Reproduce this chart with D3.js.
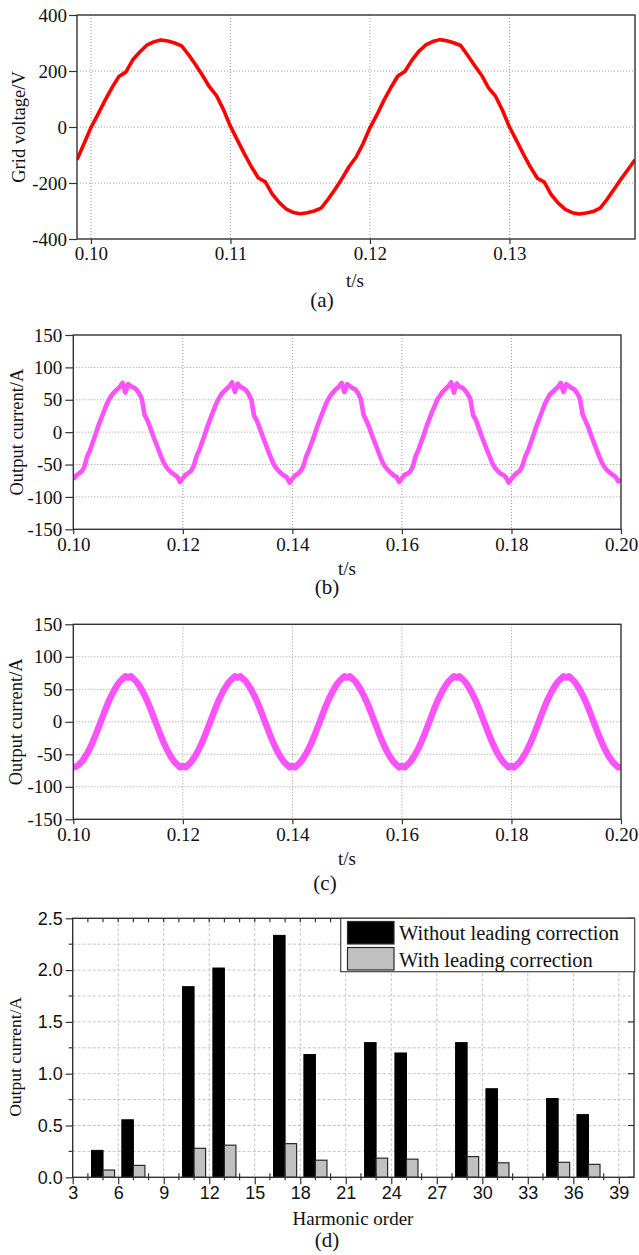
<!DOCTYPE html>
<html>
<head>
<meta charset="utf-8">
<script src="https://cdn.jsdelivr.net/npm/d3@7"></script>
<style>
  body { margin: 0; background: #fff; }
  svg text { font-family: "Liberation Serif", "Times New Roman", serif; fill: #111; }
</style>
</head>
<body>
<svg id="chart" width="639" height="1255"></svg>
<script>
// ---- data ----
// (a) grid voltage, sampled every 0.5 ms from t = 0.099 s
const voltageStart = 0.099;
const voltageStep = 0.0005;
const gridVoltage = [
  -117, -60, -2, 45, 94, 140, 180, 196, 240, 268, 292, 304, 311, 307, 300, 290, 258, 222, 184, 143,
  112, 62, 2, -47, -96, -142, -182, -196, -240, -270, -293, -305, -310, -306, -300, -290, -258, -222, -184, -142,
  -108, -60, -3, 44, 95, 141, 182, 198, 238, 270, 293, 305, 312, 308, 301, 291, 256, 220, 185, 140,
  110, 60, 0, -48, -97, -143, -183, -197, -242, -272, -294, -306, -311, -307, -302, -290, -258, -222, -186, -152,
  -117
];
const voltageTicksX = [0.10, 0.11, 0.12, 0.13];
const voltageTicksY = [-400, -200, 0, 200, 400];

// (b) output current without leading correction, every 0.5 ms from t = 0.10 s
const currentStart = 0.10;
const currentStep = 0.0005;
const currentWithout = [
  -73, -67, -64, -61, -54, -38, -29, -17, -5, 8, 19, 30, 41, 50, 57, 62, 66, 70, 76, 61,
  74, 71, 69, 66, 60, 52, 27, 19, 8, -4, -15, -26, -37, -47, -54, -59, -63, -66, -69, -77,
  -71, -66, -63, -60, -52, -37, -28, -16, -4, 9, 20, 31, 42, 51, 58, 63, 67, 71, 77, 62,
  75, 70, 68, 65, 59, 50, 26, 18, 7, -5, -16, -27, -38, -48, -55, -60, -64, -67, -70, -78,
  -72, -67, -64, -60, -53, -38, -28, -17, -5, 8, 19, 30, 41, 50, 57, 62, 67, 70, 76, 62,
  74, 71, 68, 66, 60, 51, 27, 18, 8, -4, -15, -26, -37, -47, -54, -59, -63, -67, -69, -77,
  -71, -66, -64, -61, -53, -37, -28, -16, -4, 9, 20, 31, 41, 51, 57, 63, 67, 71, 77, 61,
  75, 70, 69, 65, 59, 51, 26, 19, 7, -5, -16, -27, -37, -48, -55, -60, -64, -66, -70, -78,
  -72, -67, -63, -60, -52, -38, -29, -17, -5, 8, 19, 30, 42, 50, 58, 62, 66, 70, 76, 62,
  74, 71, 68, 66, 60, 52, 27, 18, 8, -4, -15, -26, -37, -47, -54, -59, -63, -66, -69, -76,
  -74
];

// (c) output current with leading correction, every 0.5 ms from t = 0.10 s
const currentWith = [
  -70, -69, -66, -62, -56, -49, -41, -32, -22, -11, 0, 11, 22, 32, 41, 49, 56, 62, 66, 70,
  68, 70, 66, 62, 56, 49, 41, 32, 22, 11, 0, -11, -22, -32, -41, -49, -56, -62, -66, -70,
  -68, -70, -66, -62, -56, -49, -41, -32, -22, -11, 0, 11, 22, 32, 41, 49, 56, 62, 66, 70,
  68, 70, 66, 62, 56, 49, 41, 32, 22, 11, 0, -11, -22, -32, -41, -49, -56, -62, -66, -70,
  -68, -70, -66, -62, -56, -49, -41, -32, -22, -11, 0, 11, 22, 32, 41, 49, 56, 62, 66, 70,
  68, 70, 66, 62, 56, 49, 41, 32, 22, 11, 0, -11, -22, -32, -41, -49, -56, -62, -66, -70,
  -68, -70, -66, -62, -56, -49, -41, -32, -22, -11, 0, 11, 22, 32, 41, 49, 56, 62, 66, 70,
  68, 70, 66, 62, 56, 49, 41, 32, 22, 11, 0, -11, -22, -32, -41, -49, -56, -62, -66, -70,
  -68, -70, -66, -62, -56, -49, -41, -32, -22, -11, 0, 11, 22, 32, 41, 49, 56, 62, 66, 70,
  68, 70, 66, 62, 56, 49, 41, 32, 22, 11, 0, -11, -22, -32, -41, -49, -56, -62, -66, -70,
  -70
];
const currentTicksX = [0.10, 0.12, 0.14, 0.16, 0.18, 0.20];
const currentTicksY = [-150, -100, -50, 0, 50, 100, 150];

// (d) harmonic spectrum
const harmonicOrders = [5, 7, 11, 13, 17, 19, 23, 25, 29, 31, 35, 37];
const withoutLeading = [0.26, 0.555, 1.84, 2.02, 2.335, 1.185, 1.30, 1.20, 1.30, 0.855, 0.76, 0.605];
const withLeading = [0.07, 0.115, 0.28, 0.31, 0.325, 0.165, 0.185, 0.175, 0.20, 0.14, 0.145, 0.125];
const seriesNames = ['Without leading correction', 'With leading correction'];
const harmonicTicksX = [3, 6, 9, 12, 15, 18, 21, 24, 27, 30, 33, 36, 39];
const harmonicTicksY = [0, 0.5, 1.0, 1.5, 2.0, 2.5];

const svg = d3.select('#chart');
const serif = '"Liberation Serif", "Times New Roman", serif';
const sans = '"Liberation Sans", Arial, sans-serif';
const axisColor = '#333';

// Draw one time-domain panel
function wavePanel(cfg) {
    const x = d3.scaleLinear().domain(cfg.xDomain).range([cfg.left, cfg.right]);
    const y = d3.scaleLinear().domain(cfg.yDomain).range([cfg.bottom, cfg.top]);
    const g = svg.append('g');

    // dotted grid
    g.selectAll('.vgrid')
        .data(cfg.xTicks.filter(d => x(d) > cfg.left + 1 && x(d) < cfg.right - 1))
        .enter().append('line')
        .attr('x1', d => x(d)).attr('x2', d => x(d))
        .attr('y1', cfg.top).attr('y2', cfg.bottom)
        .attr('stroke', '#999').attr('stroke-width', 1).attr('stroke-dasharray', '1,2');
    g.selectAll('.hgrid')
        .data(cfg.yTicks.filter(d => d !== cfg.yDomain[0] && d !== cfg.yDomain[1]))
        .enter().append('line')
        .attr('x1', cfg.left).attr('x2', cfg.right)
        .attr('y1', d => y(d)).attr('y2', d => y(d))
        .attr('stroke', '#999').attr('stroke-width', 1).attr('stroke-dasharray', '1,2');

    // waveform
    g.append('clipPath').attr('id', cfg.id + '-clip')
        .append('rect')
        .attr('x', cfg.left).attr('y', cfg.top)
        .attr('width', cfg.right - cfg.left).attr('height', cfg.bottom - cfg.top);

    const line = d3.line()
        .x((d, i) => x(cfg.start + i * cfg.step))
        .y(d => y(d));

    g.append('path')
        .datum(cfg.values)
        .attr('clip-path', `url(#${cfg.id}-clip)`)
        .attr('d', line)
        .attr('fill', 'none')
        .attr('stroke', cfg.color)
        .attr('stroke-width', cfg.lineWidth)
        .attr('stroke-linejoin', 'round');

    // axes
    const xAxis = g.append('g')
        .attr('transform', `translate(0,${cfg.bottom})`)
        .call(d3.axisBottom(x).tickValues(cfg.xTicks).tickFormat(d3.format('.2f')).tickSize(5).tickPadding(3));
    const yAxis = g.append('g')
        .attr('transform', `translate(${cfg.left},0)`)
        .call(d3.axisLeft(y).tickValues(cfg.yTicks).tickFormat(d => String(d)).tickSize(8).tickPadding(cfg.yPad));
    [xAxis, yAxis].forEach(a => {
        a.select('.domain').remove();
        a.selectAll('line').attr('stroke', axisColor).attr('stroke-width', 1.2);
        a.selectAll('text').style('font-family', serif).style('font-size', '19px').attr('fill', '#111');
    });

    // frame
    g.append('rect')
        .attr('x', cfg.left).attr('y', cfg.top)
        .attr('width', cfg.right - cfg.left).attr('height', cfg.bottom - cfg.top)
        .attr('fill', 'none').attr('stroke', axisColor).attr('stroke-width', 1.4);

    // labels
    g.append('text')
        .attr('transform', `translate(${cfg.yLabelX},${(cfg.top + cfg.bottom) / 2}) rotate(-90)`)
        .attr('text-anchor', 'middle').attr('dy', '0.35em')
        .style('font-size', '18.5px')
        .text(cfg.yLabel);
    g.append('text')
        .attr('x', cfg.xLabelX).attr('y', cfg.xLabelY)
        .attr('text-anchor', 'middle').attr('dy', '0.35em')
        .style('font-size', '19px')
        .text('t/s');
    g.append('text')
        .attr('x', cfg.tagX).attr('y', cfg.tagY)
        .attr('text-anchor', 'middle').attr('dy', '0.35em')
        .style('font-size', '21px')
        .text(cfg.tag);
}

wavePanel({
    id: 'pa', left: 77, right: 635, top: 15, bottom: 239,
    xDomain: [0.099, 0.139], yDomain: [-400, 400],
    xTicks: voltageTicksX, yTicks: voltageTicksY,
    start: voltageStart, step: voltageStep, values: gridVoltage,
    color: '#ff0000', lineWidth: 3.6, yPad: 2,
    yLabel: 'Grid voltage/V', yLabelX: 19,
    xLabelX: 355, xLabelY: 280, tag: '(a)', tagX: 322, tagY: 300
});

wavePanel({
    id: 'pb', left: 73.3, right: 621, top: 335, bottom: 529.3,
    xDomain: [0.10, 0.20], yDomain: [-150, 150],
    xTicks: currentTicksX, yTicks: currentTicksY,
    start: currentStart, step: currentStep, values: currentWithout,
    color: '#fb52fb', lineWidth: 4.6, yPad: 3,
    yLabel: 'Output current/A', yLabelX: 17,
    xLabelX: 347, xLabelY: 568, tag: '(b)', tagX: 327, tagY: 587
});

wavePanel({
    id: 'pc', left: 73.3, right: 621, top: 624.3, bottom: 819.3,
    xDomain: [0.10, 0.20], yDomain: [-150, 150],
    xTicks: currentTicksX, yTicks: currentTicksY,
    start: currentStart, step: currentStep, values: currentWith,
    color: '#fb52fb', lineWidth: 6.5, yPad: 3,
    yLabel: 'Output current/A', yLabelX: 16,
    xLabelX: 347, xLabelY: 858, tag: '(c)', tagX: 325, tagY: 883
});

// ---- (d) harmonic bar chart ----
function barPanel() {
    const left = 72.7, right = 634, top = 918.3, bottom = 1177.3;
    const barW = 0.76;
    const x = d3.scaleLinear().domain([3, 40]).range([left, right]);
    const y = d3.scaleLinear().domain([0, 2.5]).range([bottom, top]);
    const g = svg.append('g');

    // dashed grid
    g.selectAll('.hgrid').data(d3.range(1, 10).map(i => i * 0.25))
        .enter().append('line')
        .attr('x1', left).attr('x2', right)
        .attr('y1', d => y(d)).attr('y2', d => y(d))
        .attr('stroke', '#c4c4c4').attr('stroke-width', 1).attr('stroke-dasharray', '3,2');
    g.selectAll('.vgrid').data(harmonicTicksX.slice(1))
        .enter().append('line')
        .attr('x1', d => x(d)).attr('x2', d => x(d))
        .attr('y1', top).attr('y2', bottom)
        .attr('stroke', '#c4c4c4').attr('stroke-width', 1).attr('stroke-dasharray', '3,2');

    // bars
    g.selectAll('.bar-without').data(harmonicOrders)
        .enter().append('rect')
        .attr('x', d => x(d - barW)).attr('width', d => x(d) - x(d - barW))
        .attr('y', (d, i) => y(withoutLeading[i]))
        .attr('height', (d, i) => y(0) - y(withoutLeading[i]))
        .attr('fill', '#000').attr('stroke', '#000').attr('stroke-width', 1);
    g.selectAll('.bar-with').data(harmonicOrders)
        .enter().append('rect')
        .attr('x', d => x(d)).attr('width', d => x(d + barW) - x(d))
        .attr('y', (d, i) => y(withLeading[i]))
        .attr('height', (d, i) => y(0) - y(withLeading[i]))
        .attr('fill', '#c0c0c0').attr('stroke', '#2a2a2a').attr('stroke-width', 1.2);

    // axes
    const minorX = d3.range(4, 40).filter(d => d % 3 !== 0);
    g.selectAll('.minor-b').data(minorX).enter().append('line')
        .attr('x1', d => x(d)).attr('x2', d => x(d))
        .attr('y1', bottom - 4).attr('y2', bottom + 3)
        .attr('stroke', axisColor).attr('stroke-width', 1.2);
    g.selectAll('.minor-t').data(d3.range(4, 40)).enter().append('line')
        .attr('x1', d => x(d)).attr('x2', d => x(d))
        .attr('y1', top).attr('y2', top + 4)
        .attr('stroke', axisColor).attr('stroke-width', 1.2);
    g.selectAll('.minor-l').data(d3.range(1, 10, 2).map(i => i * 0.25)).enter().append('line')
        .attr('x1', left - 4).attr('x2', left)
        .attr('y1', d => y(d)).attr('y2', d => y(d))
        .attr('stroke', axisColor).attr('stroke-width', 1.2);
    g.selectAll('.major-r').data(harmonicTicksY).enter().append('line')
        .attr('x1', right - 6).attr('x2', right)
        .attr('y1', d => y(d)).attr('y2', d => y(d))
        .attr('stroke', axisColor).attr('stroke-width', 1.2);

    const xAxis = g.append('g')
        .attr('transform', `translate(0,${bottom})`)
        .call(d3.axisBottom(x).tickValues(harmonicTicksX).tickFormat(d3.format('d')).tickSize(7).tickPadding(2));
    const yAxis = g.append('g')
        .attr('transform', `translate(${left},0)`)
        .call(d3.axisLeft(y).tickValues(harmonicTicksY).tickFormat(d3.format('.1f')).tickSize(7).tickPadding(3));
    [xAxis, yAxis].forEach(a => {
        a.select('.domain').remove();
        a.selectAll('line').attr('stroke', axisColor).attr('stroke-width', 1.2);
        a.selectAll('text').style('font-family', sans).style('font-size', '18px').attr('fill', '#111');
    });

    g.append('rect')
        .attr('x', left).attr('y', top)
        .attr('width', right - left).attr('height', bottom - top)
        .attr('fill', 'none').attr('stroke', axisColor).attr('stroke-width', 1.4);

    // legend
    const lg = g.append('g');
    lg.append('rect')
        .attr('x', 340.7).attr('y', 918.3).attr('width', 294).attr('height', 53.4)
        .attr('fill', '#fff').attr('stroke', '#444').attr('stroke-width', 1.2);
    const fills = ['#000', '#c0c0c0'];
    seriesNames.forEach((name, i) => {
        lg.append('rect')
            .attr('x', 347.5).attr('y', 921.5 + i * 26).attr('width', 46.5).attr('height', 22.5)
            .attr('fill', fills[i]).attr('stroke', '#2a2a2a').attr('stroke-width', 1.2);
        lg.append('text')
            .attr('x', 399).attr('y', 933 + i * 26.5).attr('dy', '0.35em')
            .style('font-size', '20.5px')
            .text(name);
    });

    // labels
    g.append('text')
        .attr('transform', `translate(15,${(top + bottom) / 2 + 9}) rotate(-90)`)
        .attr('text-anchor', 'middle').attr('dy', '0.35em')
        .style('font-size', '17.5px')
        .text('Output current/A');
    g.append('text')
        .attr('x', 353).attr('y', 1218)
        .attr('text-anchor', 'middle').attr('dy', '0.35em')
        .style('font-size', '19px')
        .text('Harmonic order');
    g.append('text')
        .attr('x', 327).attr('y', 1240)
        .attr('text-anchor', 'middle').attr('dy', '0.35em')
        .style('font-size', '21px')
        .text('(d)');
}

barPanel();
</script>
</body>
</html>
